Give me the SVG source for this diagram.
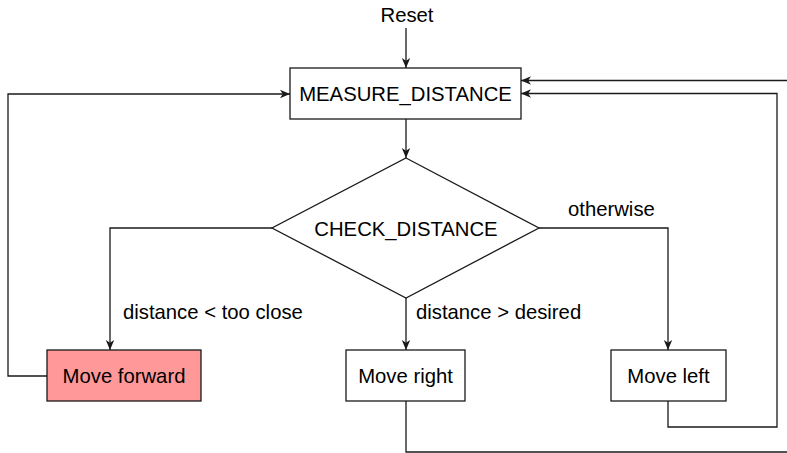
<svg xmlns="http://www.w3.org/2000/svg" width="787" height="453" viewBox="0 0 787 453">
  <style>
    .box { fill: #ffffff; stroke: #1a1a1a; stroke-width: 1.3; }
    .hot { fill: #ff9999; }
    .edge { fill: none; stroke: #1a1a1a; stroke-width: 1.3; }
    .lbl { font-family: "Liberation Sans", Arial, Helvetica, sans-serif; font-size: 20.3px; fill: #000000; }
    .mid { text-anchor: middle; }
  </style>
  <defs>
    <marker id="arrow" viewBox="0 0 10 10" refX="10" refY="5" markerWidth="10" markerHeight="10" markerUnits="userSpaceOnUse" orient="auto">
      <path d="M0,0.8 L10,5 L0,9.2 L2.8,5 Z" fill="#1a1a1a"/>
    </marker>
  </defs>
  <rect width="787" height="453" fill="#ffffff"/>

  <!-- connectors -->
  <g id="connectors">
    <path class="edge" d="M406,28 V68" marker-end="url(#arrow)"/>
    <path class="edge" d="M406,119 V158" marker-end="url(#arrow)"/>
    <path class="edge" d="M272,228 H110 V350" marker-end="url(#arrow)"/>
    <path class="edge" d="M406,298 V350" marker-end="url(#arrow)"/>
    <path class="edge" d="M539,228 H668 V350" marker-end="url(#arrow)"/>
    <path class="edge" d="M47,376 H8 V94 H290" marker-end="url(#arrow)"/>
    <path class="edge" d="M668,401 V427 H777 V93.5 H521" marker-end="url(#arrow)"/>
    <path class="edge" d="M406,401 V452 H787"/>
    <path class="edge" d="M787,80.5 H521" marker-end="url(#arrow)"/>
    <text class="lbl" x="123" y="319">distance &lt; too close</text>
    <text class="lbl" x="416" y="319">distance &gt; desired</text>
    <text class="lbl" x="568" y="216">otherwise</text>
  </g>

  <g id="reset">
    <text class="lbl mid" x="407" y="22">Reset</text>
  </g>

  <g id="measure-distance">
    <rect class="box" x="290" y="68" width="231" height="51"/>
    <text class="lbl mid" x="405.5" y="101">MEASURE_DISTANCE</text>
  </g>

  <g id="check-distance">
    <polygon class="box" points="406,158 539,228 406,298 272,228"/>
    <text class="lbl mid" x="406" y="236">CHECK_DISTANCE</text>
  </g>

  <g id="move-forward">
    <rect class="box hot" x="47" y="350" width="154" height="51"/>
    <text class="lbl mid" x="124" y="383">Move forward</text>
  </g>

  <g id="move-right">
    <rect class="box" x="346" y="350" width="119" height="51"/>
    <text class="lbl mid" x="405.5" y="383">Move right</text>
  </g>

  <g id="move-left">
    <rect class="box" x="611" y="350" width="115" height="51"/>
    <text class="lbl mid" x="668.5" y="383">Move left</text>
  </g>
</svg>
